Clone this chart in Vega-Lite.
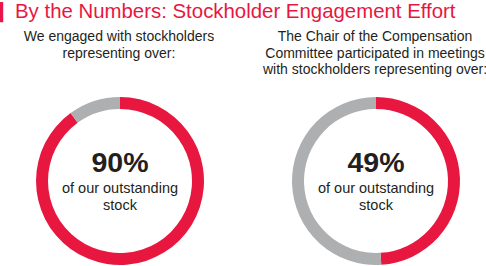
{
  "$schema": "https://vega.github.io/schema/vega-lite/v6.json",
  "width": 486,
  "height": 170,
  "autosize": {"type": "none"},
  "padding": {"left": 0, "right": 0, "top": 96, "bottom": 0},
  "background": "white",
  "config": {"view": {"stroke": null}},
  "datasets": {
    "slices": [
      {"panel": "left", "category": "Engaged", "value": 90},
      {"panel": "left", "category": "Other", "value": 10},
      {"panel": "right", "category": "Engaged", "value": 49},
      {"panel": "right", "category": "Other", "value": 51}
    ],
    "labels": [
      {"panel": "left", "subtitle": ["We engaged with stockholders", "representing over:"], "pct": "90%", "caption": ["of our outstanding", "stock"]},
      {"panel": "right", "subtitle": ["The Chair of the Compensation", "Committee participated in meetings", "with stockholders representing over:"], "pct": "49%", "caption": ["of our outstanding", "stock"]}
    ],
    "heading": [
      {"bar": "▎", "title": "By the Numbers: Stockholder Engagement Effort"}
    ]
  },
  "layer": [
    {
      "data": {"name": "slices"},
      "transform": [{"filter": "datum.panel === 'left'"}],
      "mark": {"type": "arc", "radius": 84, "radius2": 72},
      "encoding": {
        "x": {"field": "panel", "type": "nominal", "scale": {"type": "point", "domain": ["left", "right"], "range": [120, 376], "padding": 0}, "axis": null},
        "theta": {"field": "value", "type": "quantitative", "stack": true, "scale": {"domain": [0, 100]}},
        "order": {"field": "category", "sort": "ascending"},
        "color": {"field": "category", "type": "nominal", "scale": {"domain": ["Engaged", "Other"], "range": ["#E8173F", "#AEAFB1"]}, "legend": null}
      }
    },
    {
      "data": {"name": "slices"},
      "transform": [{"filter": "datum.panel === 'right'"}],
      "mark": {"type": "arc", "radius": 84, "radius2": 72},
      "encoding": {
        "x": {"field": "panel", "type": "nominal", "axis": null},
        "theta": {"field": "value", "type": "quantitative", "stack": true, "scale": {"domain": [0, 100]}},
        "order": {"field": "category", "sort": "ascending"},
        "color": {"field": "category", "type": "nominal", "legend": null}
      }
    },
    {
      "data": {"name": "labels"},
      "mark": {"type": "text", "font": "Liberation Sans", "fontSize": 28.5, "fontWeight": "bold", "color": "#231F20", "baseline": "alphabetic", "dy": -9},
      "encoding": {"x": {"field": "panel", "type": "nominal", "axis": null}, "text": {"field": "pct"}}
    },
    {
      "data": {"name": "labels"},
      "mark": {"type": "text", "font": "Liberation Sans", "fontSize": 14.5, "color": "#231F20", "baseline": "alphabetic", "lineHeight": 16.5, "dy": 12},
      "encoding": {"x": {"field": "panel", "type": "nominal", "axis": null}, "text": {"field": "caption"}}
    },
    {
      "data": {"name": "labels"},
      "mark": {"type": "text", "font": "Liberation Sans", "fontSize": 14, "color": "#231F20", "baseline": "alphabetic", "lineHeight": 16.5, "dy": -140, "dx": -1},
      "encoding": {"x": {"field": "panel", "type": "nominal", "axis": null}, "text": {"field": "subtitle"}}
    },
    {
      "data": {"name": "heading"},
      "mark": {"type": "text", "font": "Liberation Sans", "fontSize": 20.4, "color": "#E8173F", "baseline": "alphabetic", "align": "left", "dx": -228, "dy": -163.5},
      "encoding": {"text": {"field": "title"}}
    },
    {
      "data": {"name": "heading"},
      "mark": {"type": "text", "font": "DejaVu Sans", "fontSize": 17, "color": "#E8173F", "baseline": "alphabetic", "align": "left", "dx": -243, "dy": -163},
      "encoding": {"text": {"field": "bar"}}
    }
  ]
}
